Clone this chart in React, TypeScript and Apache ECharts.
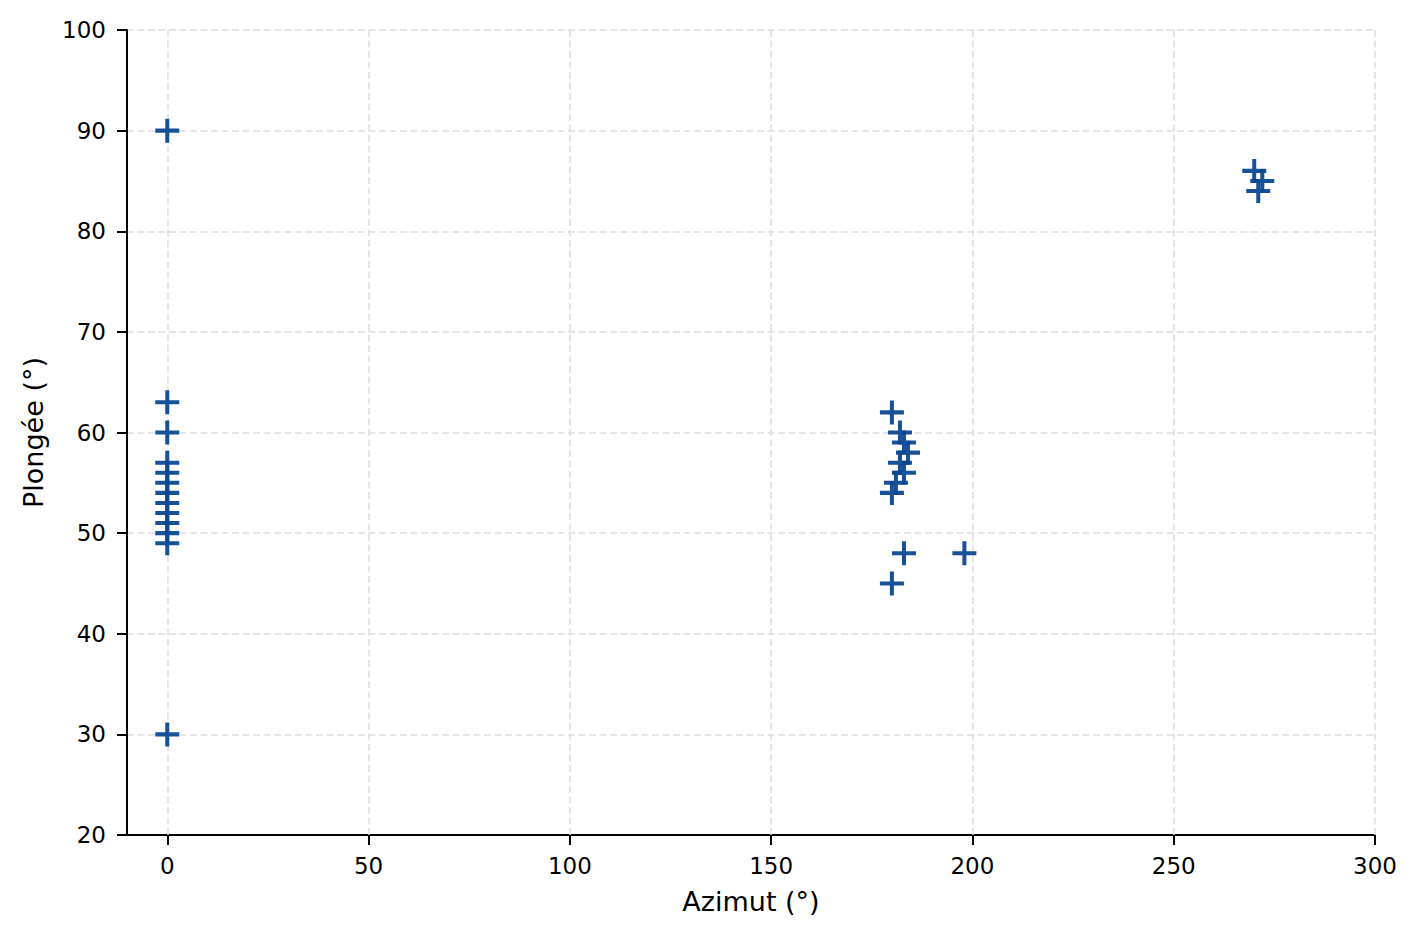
import React, { useEffect, useRef } from "react";
import * as echarts from "echarts";

const azimut: number[] = [
  0, 0, 0, 0, 0, 0, 0, 0, 0, 0, 0, 0, 0,
  180, 182, 183, 184, 182, 183, 181, 180, 183, 198, 180,
  270, 272, 271,
];
const plongee: number[] = [
  90, 63, 60, 57, 56, 55, 54, 53, 52, 51, 50, 49, 30,
  62, 60, 59, 58, 57, 56, 55, 54, 48, 48, 45,
  86, 85, 84,
];
const xTicks: number[] = [0, 50, 100, 150, 200, 250, 300];
const xLabel = "Azimut (°)";
const yLabel = "Plongée (°)";

const FONT = "DejaVu Sans";
const PLUS = "path://M10,0H14V10H24V14H14V24H10V14H0V10H10Z";

export default function App() {
  const ref = useRef<HTMLDivElement>(null);
  useEffect(() => {
    if (!ref.current) return;
    const chart = echarts.init(ref.current, null, { renderer: "svg" });
    const gridLine = { color: "#dddddd", width: 1.5, type: [7, 3.5] as number[] };
    chart.setOption({
      animation: false,
      backgroundColor: "#ffffff",
      grid: { left: 127, right: 45, top: 30, bottom: 103, outerBoundsMode: "none" },
      xAxis: {
        type: "value",
        min: -10,
        max: 300,
        name: xLabel,
        nameLocation: "middle",
        nameGap: 53,
        nameTextStyle: { fontFamily: FONT, fontSize: 27, color: "#000" },
        axisLine: { onZero: false, lineStyle: { color: "#000", width: 2 } },
        axisTick: { show: true, customValues: xTicks, length: 10, lineStyle: { color: "#000", width: 2 } },
        axisLabel: { customValues: xTicks, margin: 19, fontFamily: FONT, fontSize: 23, color: "#000" },
        splitLine: { show: false },
      },
      yAxis: {
        type: "value",
        min: 20,
        max: 100,
        interval: 10,
        name: yLabel,
        nameLocation: "middle",
        nameGap: 80,
        nameTextStyle: { fontFamily: FONT, fontSize: 27, color: "#000" },
        axisLine: { show: true, onZero: false, lineStyle: { color: "#000", width: 2 } },
        axisTick: { show: true, length: 10, lineStyle: { color: "#000", width: 2 } },
        axisLabel: { margin: 21, fontFamily: FONT, fontSize: 23, color: "#000" },
        splitLine: { show: true, lineStyle: gridLine },
      },
      series: [
        {
          type: "scatter",
          data: azimut.map((a, i) => [a, plongee[i]]),
          symbol: PLUS,
          symbolSize: 24,
          itemStyle: { color: "#0b4892", opacity: 0.95 },
          z: 3,
          markLine: {
            silent: true,
            symbol: "none",
            label: { show: false },
            lineStyle: gridLine,
            emphasis: { disabled: true },
            z: 1,
            data: xTicks.map((v) => ({ xAxis: v })),
          },
        },
      ],
    });
    return () => chart.dispose();
  }, []);
  return (
    <div
      ref={ref}
      style={{ position: "fixed", left: 0, top: 0, width: 1420, height: 938 }}
    />
  );
}
